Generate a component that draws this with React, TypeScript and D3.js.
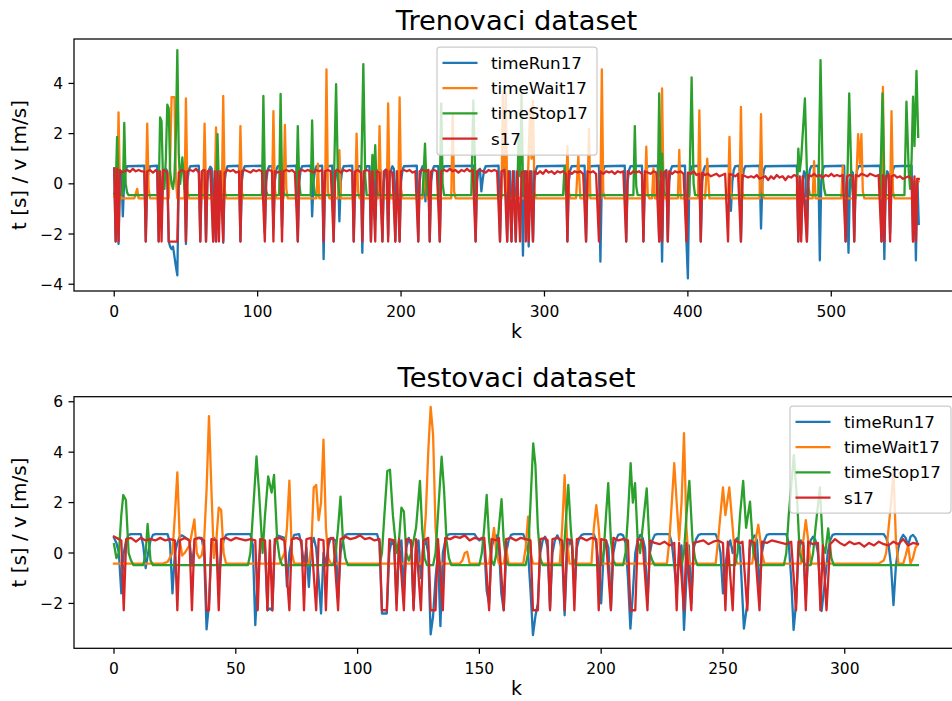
import React from 'react';
import * as d3 from 'd3';

// ---------- DATA (k, value pairs) ----------
const seriesNames = ['timeRun17', 'timeWait17', 'timeStop17', 's17'];
const seriesColors = ['#1f77b4', '#ff7f0e', '#2ca02c', '#d62728'];

const trainXTicks = [0, 100, 200, 300, 400, 500];
const trainYTicks = [-4, -2, 0, 2, 4];
const testXTicks = [0, 50, 100, 150, 200, 250, 300];
const testYTicks = [-2, 0, 2, 4, 6];

const trainRun = [0,0.6, 1,-2.3, 2,0.3, 3,-2.4, 4,0.2, 5,0.5, 6,-1.3, 7,0.2, 8,0.55, 9,0.7, 21,0.72, 22,-2.3, 23,0.1, 24,0.55, 25,0.7, 30,0.72, 31,-2.3, 32,0.3, 33,-1.5, 34,0.2, 35,0.55, 36,0.6, 37,0.5, 38,-2.3, 39,-2.5, 40,-2.6, 41,-2.5, 42,-2.9, 43,-3.3, 44,-3.65, 45,0.1, 46,0.5, 47,0.68, 49,0.7, 50,-2.4, 51,0.1, 52,0.55, 53,0.7, 59,0.72, 60,-2.3, 61,0.1, 62,0.55, 63,0.6, 64,-2.3, 65,0.1, 66,0.55, 67,0.68, 68,0.6, 69,-2.3, 70,0.2, 71,-2.3, 72,0.2, 73,-1.6, 74,0.3, 75,0.5, 76,-2.35, 77,0.1, 78,0.55, 79,0.7, 87,0.72, 88,-2.3, 89,0.1, 90,0.55, 91,0.7, 104,0.72, 105,-1.95, 106,0.1, 107,0.55, 108,0.7, 110,0.7, 111,-1.8, 112,0.1, 113,0.55, 114,0.7, 116,0.7, 117,-1.7, 118,0.1, 119,0.55, 120,0.7, 127,0.72, 128,-2.3, 129,0.1, 130,0.55, 131,0.7, 137,0.72, 138,-1.3, 139,0.1, 140,0.55, 141,0.7, 145,0.72, 146,-3.0, 147,0.1, 148,0.55, 149,0.7, 152,0.72, 153,-2.3, 154,0.1, 155,0.55, 156,0.6, 157,-1.5, 158,0.1, 159,0.55, 160,0.7, 166,0.72, 167,-2.3, 168,0.1, 169,0.55, 170,0.7, 172,0.7, 173,-2.75, 174,0.1, 175,0.55, 176,0.7, 178,0.7, 179,-2.3, 180,0.1, 181,0.5, 182,-1.4, 183,0.1, 184,0.55, 185,0.6, 186,0.5, 187,-2.3, 188,0.1, 189,0.55, 190,0.6, 191,-2.1, 192,0.1, 193,0.55, 194,0.7, 195,0.6, 196,-2.3, 197,0.1, 198,0.5, 199,-2.3, 200,0.1, 201,0.55, 202,0.7, 211,0.72, 212,-2.3, 213,0.1, 214,0.55, 215,0.7, 216,0.6, 217,-0.7, 218,0.1, 219,0.55, 220,-2.3, 221,0.1, 222,0.55, 223,0.7, 226,0.7, 227,-2.3, 228,0.1, 229,0.55, 230,0.7, 251,0.72, 252,-2.3, 253,0.1, 254,0.55, 255,0.6, 256,-0.3, 257,0.2, 258,0.55, 259,0.7, 268,0.72, 269,-2.3, 270,0.1, 271,0.55, 272,0.7, 273,0.6, 274,-2.3, 275,0.1, 276,0.5, 277,-2.3, 278,0.1, 279,0.5, 280,-2.3, 281,0.1, 282,0.55, 283,0.6, 284,0.4, 285,-2.86, 286,0.1, 287,0.5, 288,0.4, 289,-2.5, 290,0.1, 291,0.5, 292,-2.3, 293,0.1, 294,0.55, 295,0.7, 315,0.72, 316,-2.3, 317,0.1, 318,0.55, 319,0.7, 328,0.72, 329,-2.3, 330,0.1, 331,0.55, 332,0.7, 338,0.72, 339,-3.1, 340,0.1, 341,0.55, 342,0.7, 356,0.72, 357,-2.3, 358,0.1, 359,0.55, 360,0.7, 368,0.72, 369,-2.3, 370,0.1, 371,0.55, 372,0.7, 379,0.72, 380,-2.3, 381,0.1, 382,-3.1, 383,0.1, 384,0.5, 385,0.55, 386,-2.3, 387,0.1, 388,0.55, 389,0.7, 398,0.72, 399,-2.3, 400,-3.77, 401,0.1, 402,0.55, 403,0.7, 408,0.72, 409,-2.3, 410,0.1, 411,0.55, 412,0.7, 429,0.72, 430,-1.08, 431,0.1, 432,0.55, 433,0.7, 436,0.72, 437,-2.3, 438,0.1, 439,0.55, 440,0.7, 450,0.72, 451,-1.78, 452,0.1, 453,0.55, 454,0.7, 476,0.72, 477,-2.3, 478,0.1, 479,-2.0, 480,0.1, 481,0.5, 482,0.4, 483,-2.3, 484,0.1, 485,0.55, 486,0.7, 491,0.72, 492,-3.05, 493,0.1, 494,0.55, 495,0.7, 509,0.72, 510,-2.3, 511,0.1, 512,-2.75, 513,0.1, 514,0.5, 515,0.45, 516,-2.3, 517,0.1, 518,0.55, 519,0.7, 534,0.72, 535,-2.3, 536,0.1, 537,-3.0, 538,0.1, 539,0.5, 540,0.4, 541,-2.0, 542,0.1, 543,0.55, 544,0.7, 556,0.72, 557,-2.3, 558,0.1, 559,-3.05, 560,0.2, 561,-1.6];

const trainWait = [0,-0.5, 2,-0.55, 3,2.85, 4,-0.3, 5,-0.58, 14,-0.58, 16,-0.2, 17,-0.58, 22,-0.58, 23,2.4, 24,-0.2, 25,-0.58, 38,-0.58, 39,1.0, 40,3.45, 42,3.45, 43,0.2, 44,-0.58, 49,-0.58, 50,3.4, 51,-0.2, 52,-0.58, 62,-0.58, 63,2.4, 64,-0.3, 65,-0.58, 70,-0.58, 71,2.25, 72,-0.3, 73,-0.58, 75,-0.58, 76,3.5, 77,-0.2, 78,-0.58, 87,-0.58, 88,2.3, 89,-0.3, 90,-0.58, 110,-0.58, 111,2.9, 112,-0.2, 113,-0.58, 118,-0.58, 119,2.35, 120,-0.2, 121,-0.58, 141,-0.58, 142,0.8, 143,-0.58, 147,-0.58, 148,4.56, 149,-0.3, 150,-0.58, 156,-0.58, 157,1.34, 158,-0.58, 168,-0.58, 169,2.0, 170,-0.3, 171,-0.58, 184,-0.58, 185,2.3, 186,-0.3, 187,-0.58, 190,-0.58, 191,3.2, 192,-0.3, 193,-0.58, 198,-0.58, 199,3.44, 200,-0.2, 201,-0.58, 215,-0.58, 217,0.48, 218,-0.58, 235,-0.58, 236,2.74, 237,-0.3, 238,-0.58, 270,-0.58, 271,3.6, 272,0.5, 273,3.6, 274,-0.3, 275,-0.58, 288,-0.58, 290,3.0, 291,1.0, 292,3.3, 293,-0.3, 294,-0.58, 315,-0.58, 316,1.5, 317,-0.3, 318,-0.58, 322,-0.58, 323.6,1.1, 325,-0.58, 330,-0.58, 331,2.2, 332,-0.58, 339,-0.58, 340,4.56, 341,-0.3, 342,-0.58, 370,-0.58, 371,1.48, 372,-0.4, 373,-0.58, 375,-0.58, 376,0.62, 377,-0.58, 381,-0.58, 382,3.8, 383,-0.3, 384,-0.58, 393,-0.58, 394,1.35, 395,-0.58, 407,-0.58, 408,2.93, 409,-0.3, 410,-0.58, 412,-0.58, 413.5,1.0, 415,-0.58, 428,-0.58, 429,1.87, 430,-0.3, 431,-0.58, 436,-0.58, 437,3.06, 438,-0.3, 439,-0.58, 450,-0.58, 451,2.78, 452,-0.3, 453,-0.58, 487,-0.58, 488,0.9, 489,-0.58, 507,-0.58, 508,0.7, 509,-0.58, 517,-0.58, 518.7,1.98, 520,0.8, 521,1.98, 522,-0.3, 523,-0.58, 535,-0.58, 536,3.86, 537,-0.3, 538,-0.58, 541,-0.58, 542,2.9, 543,-0.3, 544,-0.58, 559,-0.58, 560,0.15, 561,0.1];

const trainStop = [0,-0.4, 1,-0.2, 2,1.87, 3,-0.1, 4,-0.45, 6,-0.4, 7,2.43, 8,0.0, 9,-0.35, 10,-0.45, 31,-0.45, 32,2.65, 33,2.5, 34,0.2, 35,-0.2, 36,1.0, 37,3.15, 38,3.0, 39,0.5, 40,0.0, 41,-0.2, 42,0.3, 43,2.0, 44,5.33, 45,1.2, 46,0.0, 47.5,1.05, 49,-0.2, 50,-0.45, 71,-0.45, 72,1.98, 73,-0.1, 74,-0.45, 103,-0.45, 104,3.5, 105,0.3, 106,-0.3, 107,-0.45, 115,-0.45, 116,3.58, 117,0.2, 118,-0.3, 119,-0.45, 127,-0.45, 128,2.3, 129,0.0, 130,-0.45, 137,-0.45, 138,2.53, 139,0.0, 140,-0.45, 153,-0.45, 154.7,3.97, 156,0.2, 157,-0.45, 172,-0.45, 173.7,4.77, 175,0.3, 176,-0.45, 179,-0.45, 180,1.15, 181,0.2, 182,1.54, 183,-0.2, 184,-0.45, 215,-0.45, 216.7,1.6, 218,-0.45, 227,-0.45, 228,3.2, 229,0.0, 230,-0.45, 249,-0.45, 250.4,3.32, 252,-0.2, 253,-0.45, 281,-0.45, 282,2.0, 283,0.3, 284,3.6, 285,0.0, 286,-0.45, 313,-0.45, 314,0.7, 315,-0.45, 362,-0.45, 363,2.3, 364,-0.1, 365,-0.45, 379,-0.45, 380,3.6, 381,0.3, 382,1.2, 383,-0.2, 384,-0.45, 401,-0.45, 402.6,4.24, 404,0.0, 405,-0.45, 476,-0.45, 477,1.4, 478,0.5, 479,1.0, 481.6,3.4, 483,0.5, 484,-0.1, 485,-0.45, 491,-0.45, 492.5,4.93, 494,0.3, 495,-0.2, 496,-0.45, 511,-0.45, 512.5,3.6, 514,0.3, 515,-0.45, 534,-0.45, 535.7,3.6, 537,0.0, 538,-0.45, 551,-0.45, 552.4,3.27, 554,0.5, 555,-0.2, 556,1.0, 557,3.47, 558,1.5, 559.4,4.5, 560.6,1.87];

const trainS17 = [0,0.62, 1,-2.3, 2,0.6, 3,-2.3, 4,0.55, 5,0.45, 7,0.5, 9,0.55, 11,0.48, 13,0.6, 15,0.5, 17,0.55, 19,0.5, 21,0.5, 22,-2.3, 23,0.5, 25,0.55, 27,0.45, 29,0.55, 30,0.5, 31,-2.3, 32,0.5, 33,-2.3, 34,0.55, 36,0.5, 37,0.45, 38,-2.3, 44,-2.3, 45,0.45, 47,0.55, 49,0.5, 50,-2.3, 51,0.5, 53,0.55, 55,0.5, 57,0.6, 59,0.45, 60,-2.3, 61,0.5, 63,0.55, 64,-2.3, 65,0.5, 67,0.55, 69,-2.3, 70,0.5, 71,-2.3, 72,0.5, 73,-2.3, 74,0.5, 76,-2.3, 77,0.45, 79,0.55, 81,0.5, 83,0.55, 85,0.45, 87,0.5, 88,-2.3, 89,0.5, 91,0.55, 93,0.5, 95,0.45, 97,0.55, 99,0.5, 101,0.55, 103,0.5, 105,-2.3, 106,0.5, 108,0.55, 110,0.5, 111,-2.3, 112,0.5, 114,0.45, 116,0.5, 117,-2.3, 118,0.5, 120,0.55, 122,0.5, 124,0.55, 126,0.45, 128,-2.3, 129,0.5, 131,0.55, 133,0.5, 135,0.55, 137,0.5, 139,0.45, 141,0.55, 143,0.5, 145,0.55, 146,-2.3, 147,0.5, 149,0.55, 151,0.5, 153,-2.3, 154,0.5, 156,0.55, 158,0.45, 160,0.55, 162,0.5, 164,0.55, 166,0.5, 167,-2.3, 168,0.5, 170,0.55, 172,0.45, 173,-2.3, 174,0.5, 176,0.55, 178,0.5, 179,-2.3, 180,0.5, 182,-2.3, 183,0.5, 185,0.45, 187,-2.3, 188,0.5, 190,0.55, 191,-2.3, 192,0.5, 194,0.45, 196,-2.3, 197,0.5, 199,-2.3, 200,0.5, 202,0.55, 204,0.5, 206,0.55, 208,0.45, 210,0.5, 212,-2.3, 213,0.5, 215,0.55, 217,0.5, 219,0.55, 220,-2.3, 221,0.5, 223,0.55, 225,0.5, 227,-2.3, 228,0.5, 230,0.55, 232,0.5, 234,0.6, 236,0.5, 238,0.55, 240,0.45, 242,0.55, 244,0.5, 246,0.6, 248,0.5, 250,0.55, 252,-2.3, 253,0.5, 255,0.55, 257,0.5, 259,0.45, 261,0.55, 263,0.5, 265,0.55, 267,0.5, 269,-2.3, 270,0.5, 272,0.55, 274,-2.3, 275,0.5, 277,-2.3, 278,0.5, 280,-2.3, 281,0.5, 283,-2.3, 284,0.45, 286,0.5, 287,-2.3, 288,0.5, 289,-2.3, 290,0.5, 292,-2.3, 293,0.5, 295,0.4, 297,0.5, 299,0.4, 301,0.55, 303,0.45, 305,0.5, 307,0.4, 309,0.5, 311,0.45, 313,0.5, 315,0.4, 316,-2.3, 317,0.5, 319,0.4, 321,0.5, 323,0.45, 325,0.5, 327,0.4, 329,-2.3, 330,0.5, 332,0.45, 334,0.5, 336,0.4, 338,-2.3, 339,0.5, 341,0.4, 343,0.5, 345,0.45, 347,0.5, 349,0.4, 351,0.5, 353,0.45, 355,0.5, 357,-2.3, 358,0.5, 360,0.4, 362,0.5, 364,0.45, 366,0.5, 368,0.4, 369,-2.3, 370,0.5, 372,0.45, 374,0.4, 376,0.5, 378,0.45, 380,-2.3, 381,0.5, 382,-2.3, 383,0.45, 385,0.5, 386,-2.3, 387,0.5, 389,0.4, 391,0.5, 393,0.45, 395,0.5, 397,0.4, 399,-2.3, 400,0.45, 402,0.4, 404,0.5, 406,0.35, 408,0.4, 409,-2.3, 410,0.45, 412,0.35, 414,0.4, 416,0.3, 418,0.35, 420,0.4, 422,0.3, 424,0.35, 426,0.4, 428,-2.3, 429,0.4, 431,0.35, 433,0.3, 435,0.4, 437,-2.3, 438,0.35, 440,0.3, 442,0.25, 444,0.3, 446,0.25, 448,0.35, 450,0.2, 452,0.25, 454,0.3, 456,0.15, 458,0.3, 460,0.2, 462,0.35, 464,0.25, 466,0.3, 468,0.15, 470,0.3, 472,0.25, 474,0.35, 476,0.3, 477,-2.3, 478,0.3, 479,-2.3, 480,0.3, 483,-2.3, 484,0.35, 486,0.3, 488,0.4, 490,0.3, 492,0.35, 494,0.25, 496,0.35, 498,0.3, 500,0.4, 502,0.3, 504,0.35, 506,0.3, 508,0.35, 510,-2.3, 511,0.3, 513,0.35, 515,0.3, 516,-2.3, 517,0.35, 519,0.3, 521,0.4, 523,0.35, 525,0.3, 527,0.4, 529,0.35, 531,0.3, 533,0.35, 535,-2.3, 536,0.35, 537,-2.3, 538,0.3, 540,0.35, 541,-2.3, 542,0.3, 544,0.35, 546,0.25, 548,0.3, 550,0.2, 552,0.25, 554,0.3, 556,0.2, 557,-2.3, 558,0.3, 559,-2.3, 560,0.2, 561,0.2];

const testRun = [0,0.6, 1,0.4, 2,0.0, 3,-1.6, 4,0.0, 5,0.5, 6,0.72, 7,0.75, 11,0.75, 12,0.3, 13,-0.6, 14,0.0, 15,0.5, 16,0.72, 17,0.75, 22,0.75, 23,0.4, 24,-1.6, 25,0.0, 26,0.4, 27,0.65, 28,0.7, 31,0.5, 32,-0.5, 33,0.3, 34,0.6, 36,0.6, 37,0.0, 38,-3.03, 39,-2.0, 40,0.3, 41,0.6, 42,0.5, 43,-1.2, 44,0.0, 45,0.5, 46,0.72, 47,0.75, 56,0.75, 57,0.3, 58,-2.86, 59,-1.0, 60,0.2, 61,0.6, 62,0.2, 63,-2.27, 64,-2.2, 65,-2.27, 66,0.3, 67,0.7, 70,0.6, 71,-1.33, 72,0.0, 73,0.5, 74,0.72, 76,0.75, 77,0.3, 78,-0.5, 79,0.2, 80,-1.35, 81,0.3, 82,0.6, 83,0.2, 84,-1.0, 85,-2.4, 86,0.0, 87,-0.5, 88,0.3, 89,0.6, 91,0.5, 92,-1.8, 93,0.0, 94,0.5, 95,0.72, 96,0.75, 108,0.75, 109,0.4, 110,-2.4, 112,-2.4, 113,0.0, 114,0.5, 115,0.3, 116,-2.0, 117,0.2, 118,0.5, 119,-1.5, 120,0.2, 121,0.6, 122,0.3, 123,-2.2, 124,0.2, 125,0.5, 126,-1.0, 127,0.3, 128,0.5, 129,0.0, 130,-3.23, 131,-2.5, 132,-1.0, 133,0.0, 134,-2.9, 135,0.0, 136,0.5, 137,0.72, 138,0.75, 148,0.75, 149,0.6, 150,0.5, 151,0.6, 152,0.3, 153,-1.5, 154,-2.0, 155,0.2, 156,0.6, 157,0.7, 158,0.3, 159,-1.6, 160,-2.27, 161,0.0, 162,0.5, 163,0.72, 164,0.75, 168,0.75, 169,0.5, 170,0.0, 171,-1.5, 172,-3.26, 173,-2.5, 174,-2.0, 175,0.0, 176,0.5, 177,0.65, 178,0.2, 179,-2.2, 180,0.0, 181,0.5, 182,0.7, 183,0.5, 184,0.0, 185,-2.47, 186,0.0, 187,0.5, 188,0.3, 189,-1.5, 190,0.2, 191,0.6, 192,0.72, 193,0.75, 197,0.75, 198,0.4, 199,-0.5, 200,-2.0, 201,0.0, 202,0.5, 203,0.2, 204,-2.2, 205,0.0, 206,0.5, 207,0.72, 208,0.75, 209,0.7, 210,0.4, 211,-1.0, 212,-3.0, 213,-1.6, 214,0.0, 215,0.5, 216,0.72, 217,0.6, 218,0.2, 219,-2.0, 220,0.0, 221,0.5, 222,0.72, 223,0.75, 228,0.75, 229,0.4, 230,-0.5, 231,-1.5, 232,0.0, 233,0.3, 234,-3.05, 235,-1.0, 236,0.3, 237,-2.0, 238,0.2, 239,0.55, 240,0.72, 241,0.75, 247,0.75, 248,0.5, 249,0.0, 250,-1.6, 251,-0.5, 252,0.2, 253,0.5, 254,0.0, 255,0.5, 256,0.6, 257,0.2, 258.6,-3.0, 260,-2.0, 261,0.2, 262,0.55, 263,0.7, 264,0.5, 265,-1.5, 266,0.0, 267,0.5, 268,0.72, 269,0.75, 276,0.75, 277,0.4, 278,-1.0, 279,-3.05, 280,-2.0, 281,0.0, 282,0.5, 283,0.3, 284,-1.8, 285,0.0, 286,0.5, 287,0.65, 288,0.5, 289,0.0, 290.5,-2.3, 292,-1.0, 293,0.0, 294,0.5, 295,0.72, 296,0.75, 316,0.75, 317,0.6, 318,0.3, 319,-0.5, 320,-2.07, 321,-0.5, 322,0.2, 323,0.55, 324,0.72, 325,0.6, 326,0.3, 327,0.65, 328,0.72, 329,0.6, 330,0.35];

const testWait = [0,-0.42, 20,-0.42, 22,-0.35, 24,0.0, 25,1.5, 26,3.2, 27,0.5, 28,-0.1, 29,0.0, 31,0.3, 33,1.33, 34,0.0, 35,-0.2, 36,-0.1, 37,0.5, 38,2.5, 39,5.43, 40,2.5, 41,-0.2, 42,0.5, 43,1.8, 44,1.7, 45,0.0, 46,-0.42, 68,-0.42, 70,0.0, 71,1.0, 72,2.87, 73,0.0, 74,-0.42, 80,-0.42, 81,0.2, 82,2.6, 83,2.7, 84,1.3, 85,2.0, 86,4.5, 87,1.0, 88,-0.2, 89,-0.42, 126,-0.42, 127,0.2, 128,1.5, 129,4.0, 130,5.8, 131,4.68, 132,1.0, 133,-0.2, 134,-0.42, 142,-0.42, 143,-0.3, 144,0.0, 145,0.05, 146,-0.42, 154,-0.42, 155,0.3, 156,1.0, 157,0.0, 158,-0.42, 160,-0.42, 161,0.2, 162,-0.42, 168,-0.42, 169,0.2, 170,1.44, 171,0.0, 172,-0.42, 183,-0.42, 184,1.0, 185,3.09, 186,0.5, 187,-0.42, 196,-0.42, 197,1.0, 198,1.9, 199,1.0, 200,-0.42, 227,-0.42, 228,0.5, 229,2.0, 230,3.56, 231,2.0, 232,0.5, 233,2.0, 234,4.75, 235,1.0, 236,-0.42, 247,-0.42, 248,0.5, 250,2.6, 251,1.5, 252.6,2.6, 254,0.98, 255,-0.2, 256,-0.42, 262,-0.42, 263,0.3, 264.5,1.12, 266,0.0, 267,-0.42, 282,-0.42, 283,0.5, 284,1.3, 285,0.5, 286,-0.42, 314,-0.42, 316,-0.3, 317,0.0, 318,1.0, 319,2.0, 320,3.23, 321,0.5, 322,-0.42, 324,-0.42, 325,-0.1, 326,0.3, 327,-0.42, 328,-0.2, 329,0.2, 330,0.35];

const testStop = [0,0.35, 1,-0.2, 2,0.0, 3,1.5, 3.8,2.3, 4.9,2.1, 6,0.0, 7,-0.3, 8,-0.48, 12,-0.48, 13,0.0, 13.8,1.15, 15,-0.3, 16,-0.48, 55,-0.48, 56,0.0, 57,1.5, 58.5,3.83, 59.5,2.5, 61,0.0, 62,1.5, 63.3,3.04, 64.7,2.4, 65.7,3.1, 67,0.5, 68,-0.2, 69,-0.48, 90,-0.48, 91,0.0, 92,1.0, 93,2.24, 94,0.5, 95,-0.2, 96,-0.48, 109,-0.48, 110,0.0, 111,1.5, 112.2,3.25, 113.3,3.3, 114.5,1.5, 116,0.0, 117,0.5, 118,1.8, 119,1.64, 120,0.0, 121,-0.3, 122,0.0, 124,1.0, 125.6,2.86, 126.5,1.0, 127.5,-0.2, 128.5,-0.48, 131,-0.48, 132,0.0, 133,1.5, 134.5,3.82, 135.5,2.5, 136.5,0.5, 137.5,-0.2, 138.5,-0.48, 150,-0.48, 151,0.0, 152,1.0, 153,2.3, 154,0.5, 155,-0.3, 156,-0.48, 157,0.0, 158,1.0, 159.1,2.14, 160,0.5, 161,-0.3, 162,-0.48, 169,-0.48, 170,0.0, 171,2.0, 172.1,4.35, 173,3.5, 174,1.0, 175,-0.2, 176,-0.48, 184,-0.48, 185,0.5, 186.5,2.7, 187.5,1.0, 188.5,-0.2, 189.5,-0.48, 200,-0.48, 201,0.0, 202,1.5, 202.9,2.77, 204,0.5, 205,-0.3, 206,-0.48, 209,-0.48, 210,0.0, 211,1.5, 212.1,3.56, 213,2.0, 213.9,2.77, 215,0.5, 216,0.0, 217,1.0, 218.7,2.56, 220,0.0, 221,-0.3, 222,-0.48, 233,-0.48, 234,0.0, 235,1.5, 236.2,2.86, 237.5,0.5, 238.5,-0.2, 239.5,-0.48, 255,-0.48, 256,0.0, 257,1.5, 258.3,2.86, 259.5,1.0, 261.1,2.04, 262.5,0.0, 263.5,-0.3, 264.5,-0.48, 275,-0.48, 276,0.0, 277,1.5, 279.1,3.88, 280.5,2.0, 281.5,0.0, 282.5,-0.3, 284,-0.48, 286,-0.48, 287,0.0, 288,1.0, 289.8,2.6, 291,0.3, 292,0.0, 293.2,0.98, 294.5,-0.2, 295.5,-0.48, 330,-0.48];

const testS17 = [0,0.65, 2,0.55, 3,0.5, 4,-2.27, 5,0.55, 7,0.6, 9,0.45, 11,0.6, 13,0.5, 15,0.55, 17,0.5, 19,0.6, 21,0.5, 23,0.55, 25,0.5, 26,-2.27, 27,0.5, 29,0.6, 31,0.5, 32,-2.27, 33,0.55, 35,0.6, 37,0.5, 38,-2.27, 39,-2.27, 40,0.55, 42,0.5, 43,-2.27, 44,0.55, 46,0.6, 48,0.5, 50,0.6, 52,0.55, 54,0.5, 56,0.55, 58,0.5, 59,-2.27, 60,0.55, 62,0.5, 63,-2.27, 64,0.5, 65,-2.27, 66,0.55, 68,0.6, 70,0.5, 72,-2.27, 73,0.55, 75,0.6, 77,0.5, 78,-2.27, 79,0.55, 81,0.6, 83,-2.27, 84,0.55, 86,0.5, 87,-2.27, 88,0.55, 90,0.6, 92,-2.27, 93,0.55, 95,0.65, 97,0.55, 99,0.6, 101,0.7, 103,0.55, 105,0.6, 107,0.5, 109,0.55, 110,-2.27, 112,-2.27, 113,0.55, 115,0.5, 116,-2.27, 117,0.55, 119,-2.27, 120,0.55, 122,0.5, 123,-2.27, 124,0.55, 126,-2.27, 127,0.5, 129,0.6, 130,-2.27, 132,-2.27, 133,0.55, 135,-2.27, 136,0.6, 138,0.55, 140,0.65, 142,0.6, 144,0.7, 146,0.5, 148,0.6, 150,0.55, 152,0.6, 154,-2.27, 155,0.55, 157,0.5, 158,0.6, 160,-2.27, 161,0.55, 163,0.6, 165,0.5, 167,0.6, 169,0.55, 171,0.5, 172,-2.27, 174,-2.27, 175,0.55, 177,0.6, 178,0.5, 179,-2.27, 180,0.55, 182,0.6, 184,0.5, 185,-2.27, 186,0.55, 188,0.5, 189,-2.27, 190,0.55, 192,0.6, 194,0.5, 196,0.6, 198,0.55, 199,-2.27, 200,0.55, 202,0.5, 204,-2.27, 205,0.6, 207,0.5, 209,0.55, 211,0.5, 212,-2.27, 214,-2.27, 215,0.55, 217,0.5, 219,-2.27, 220,0.5, 222,0.4, 224,0.35, 226,0.45, 228,0.3, 230,0.4, 231,-2.27, 232,0.4, 234,-2.27, 235,0.4, 237,-2.27, 238,0.4, 240,0.45, 242,0.5, 244,0.35, 246,0.45, 248,0.5, 250,0.4, 251,-2.27, 252,0.45, 254,-2.27, 255,0.5, 257,0.4, 258,0.45, 260,-2.27, 261,0.5, 263,0.4, 265,-2.27, 266,0.45, 268,0.4, 270,0.5, 272,0.45, 274,0.4, 276,0.35, 278,0.45, 280,-2.27, 281,0.45, 283,0.4, 284,-2.27, 285,0.45, 287,0.35, 289,0.4, 290,-2.27, 291,0.3, 292.5,-2.27, 294,0.35, 296,0.55, 298,0.4, 300,0.3, 302,0.45, 304,0.35, 306,0.4, 308,0.25, 310,0.4, 312,0.3, 314,0.45, 316,0.35, 318,0.3, 320,0.45, 322,0.35, 324,0.55, 326,0.3, 328,0.4, 330,0.35];

// ---------- helpers ----------
const FONT = 'DejaVu Sans, sans-serif';
const toPts = (a: number[]): [number, number][] => {
  const r: [number, number][] = [];
  for (let i = 0; i + 1 < a.length; i += 2) r.push([a[i], a[i + 1]]);
  return r;
};
const fmt = (d: number) => (d < 0 ? '\u2212' + Math.abs(d) : String(d));

type PanelProps = {
  id: string;
  title: string;
  top: number;
  bottom: number;
  left: number;
  right: number;
  xDomain: [number, number];
  yDomain: [number, number];
  xTicks: number[];
  yTicks: number[];
  series: number[][];
  legend: { x: number; y: number; w: number; h: number };
};

function Panel(p: PanelProps) {
  const x = d3.scaleLinear().domain(p.xDomain).range([p.left, p.right]);
  const y = d3.scaleLinear().domain(p.yDomain).range([p.bottom, p.top]);
  const line = d3
    .line<[number, number]>()
    .x((d) => x(d[0]))
    .y((d) => y(d[1]));
  const cx = (p.left + p.right) / 2;
  const cy = (p.top + p.bottom) / 2;
  const tickLen = 5.5;
  const lg = p.legend;
  return (
    <g>
      <defs>
        <clipPath id={p.id}>
          <rect x={p.left} y={p.top} width={p.right - p.left} height={p.bottom - p.top} />
        </clipPath>
      </defs>
      <text x={cx} y={p.top - 9.5} textAnchor="middle" fontSize={27.3} fontFamily={FONT} fill="#000">
        {p.title}
      </text>
      <g clipPath={`url(#${p.id})`}>
        {p.series.map((s, i) => (
          <path
            key={i}
            d={line(toPts(s)) || ''}
            fill="none"
            stroke={seriesColors[i]}
            strokeWidth={2.3}
            strokeLinejoin="round"
            strokeLinecap="square"
          />
        ))}
      </g>
      {/* spines */}
      <rect x={p.left} y={p.top} width={p.right - p.left} height={p.bottom - p.top} fill="none" stroke="#000" strokeWidth={1.25} />
      {/* x ticks */}
      {p.xTicks.map((t) => (
        <g key={'x' + t}>
          <line x1={x(t)} x2={x(t)} y1={p.bottom} y2={p.bottom + tickLen} stroke="#000" strokeWidth={1.25} />
          <text x={x(t)} y={p.bottom + 25.5} textAnchor="middle" fontSize={15.5} fontFamily={FONT} fill="#000">
            {fmt(t)}
          </text>
        </g>
      ))}
      {/* y ticks */}
      {p.yTicks.map((t) => (
        <g key={'y' + t}>
          <line x1={p.left - tickLen} x2={p.left} y1={y(t)} y2={y(t)} stroke="#000" strokeWidth={1.25} />
          <text x={p.left - 11} y={y(t) + 5.6} textAnchor="end" fontSize={15.5} fontFamily={FONT} fill="#000">
            {fmt(t)}
          </text>
        </g>
      ))}
      {/* axis labels */}
      <text x={cx} y={p.bottom + 47} textAnchor="middle" fontSize={19} fontFamily={FONT} fill="#000">
        k
      </text>
      <text
        transform={`translate(26,${cy}) rotate(-90)`}
        textAnchor="middle"
        fontSize={20}
        fontFamily={FONT}
        fill="#000"
      >
        t [s] / v [m/s]
      </text>
      {/* legend */}
      <rect x={lg.x} y={lg.y} width={lg.w} height={lg.h} rx={3} fill="#fff" fillOpacity={0.8} stroke="#cccccc" strokeWidth={1.25} />
      {seriesNames.map((n, i) => {
        const ry = lg.y + 15.8 + i * 25.3;
        return (
          <g key={n}>
            <line x1={lg.x + 5.5} x2={lg.x + 40.5} y1={ry} y2={ry} stroke={seriesColors[i]} strokeWidth={2.3} />
            <text x={lg.x + 54} y={ry + 6} fontSize={16.7} fontFamily={FONT} fill="#000">
              {n}
            </text>
          </g>
        );
      })}
    </g>
  );
}

export default function App() {
  return (
    <svg
      width={952}
      height={701}
      style={{ position: 'absolute', left: 0, top: 0, background: '#fff' }}
    >
      <rect x={0} y={0} width={952} height={701} fill="#fff" />
      <Panel
        id="clipTrain"
        title="Trenovaci dataset"
        top={39}
        bottom={291}
        left={74}
        right={959}
        xDomain={[-28.05, 589.05]}
        yDomain={[-4.27, 5.77]}
        xTicks={trainXTicks}
        yTicks={trainYTicks}
        series={[trainRun, trainWait, trainStop, trainS17]}
        legend={{ x: 437, y: 47, w: 160, h: 108 }}
      />
      <Panel
        id="clipTest"
        title="Testovaci dataset"
        top={396.7}
        bottom={648.3}
        left={74}
        right={959}
        xDomain={[-16.42, 346.9]}
        yDomain={[-3.78, 6.2]}
        xTicks={testXTicks}
        yTicks={testYTicks}
        series={[testRun, testWait, testStop, testS17]}
        legend={{ x: 790, y: 406, w: 161, h: 107 }}
      />
    </svg>
  );
}
